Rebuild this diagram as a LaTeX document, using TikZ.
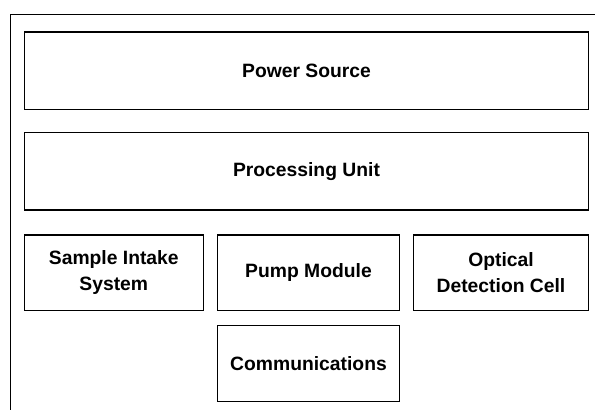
\documentclass[tikz,border=0pt]{standalone}
\usepackage{fontspec}
\setmainfont{Liberation Sans}

\tikzset{
    block/.style={draw, line width=1.2pt, inner sep=0pt, align=center,
        font=\fontsize{19.3}{26}\selectfont\bfseries},
    wideblock/.style={block, minimum width=564.4pt, minimum height=77.3pt},
    unitblock/.style={block, minimum width=180pt, minimum height=75.7pt}
}

\begin{document}
\begin{tikzpicture}[x=1pt,y=-1pt]
            \clip (0,0) rectangle (595,410);
            \draw[line width=1.2pt] (10.5,14.5) rectangle (620,430);
            \node[wideblock] (power) at (306.5,70.7) {Power Source};
            \node[wideblock] (proc) at (306.5,171.4) {Processing Unit};
            \node[unitblock, minimum width=179pt] (intake) at (113.8,272.9) {Sample Intake\\System};
            \node[unitblock, minimum width=181.6pt] (pump) at (308.5,272.9) {Pump Module};
            \node[unitblock, minimum width=175.4pt] (optic) at (501,272.9) {Optical\\Detection Cell};
            \node[unitblock, minimum width=181.6pt, minimum height=76pt] (comms) at (308.5,363.7) {Communications};
        \end{tikzpicture}
\end{document}
